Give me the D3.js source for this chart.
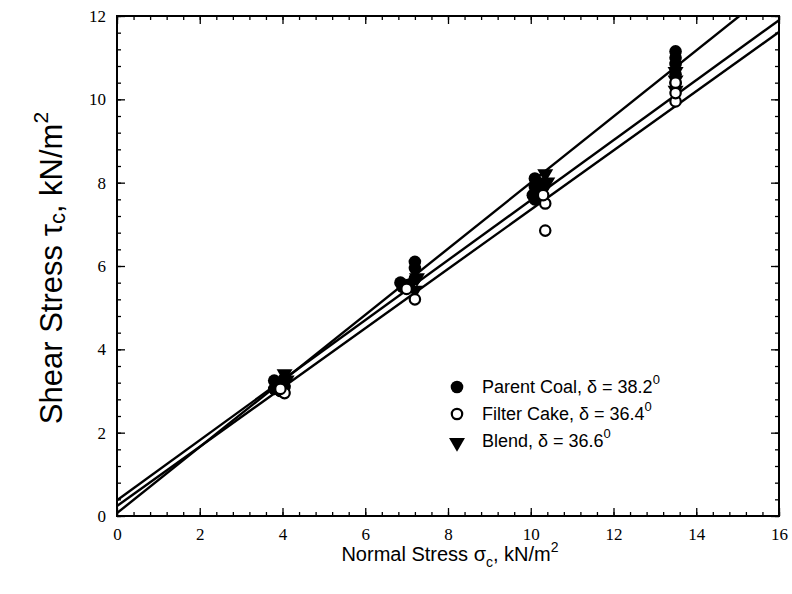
<!DOCTYPE html>
<html>
<head>
<meta charset="utf-8">
<script src="https://cdn.jsdelivr.net/npm/d3@7"></script>
<style>
  body { margin: 0; background: #fff; }
  svg { display: block; }
  .tick text { font-family: "Liberation Serif", "Times New Roman", serif; font-size: 17px; fill: #000; }
  .axis path.domain { display: none; }
  .axis line { stroke: #000; stroke-width: 1.3px; }
</style>
</head>
<body>
<svg id="chart" width="792" height="594"></svg>
<script>
// data: [normal stress, shear stress]
const parentCoal = [
  [3.8, 3.25], [3.8, 3.05], [4.05, 3.1], [4.05, 3.3], [3.95, 3.0],
  [7.2, 6.1], [7.2, 5.95], [6.85, 5.6], [6.9, 5.5], [7.05, 5.55], [7.2, 5.7],
  [10.1, 8.1], [10.1, 7.9], [10.05, 7.7], [10.1, 7.6], [10.3, 7.95],
  [13.5, 11.15], [13.5, 11.0], [13.5, 10.85], [13.5, 10.6], [13.5, 10.4]
];
const filterCake = [
  [4.05, 2.95], [3.95, 3.05],
  [7.2, 5.2], [7.0, 5.45],
  [10.35, 7.5], [10.35, 6.85], [10.3, 7.7],
  [13.5, 9.95], [13.5, 10.15], [13.5, 10.4]
];
const blend = [
  [4.05, 3.45], [3.9, 3.15], [4.1, 3.3],
  [7.1, 5.6], [7.25, 5.75], [7.2, 5.45],
  [10.35, 8.25], [10.4, 8.05], [10.3, 7.85],
  [13.5, 10.7], [13.5, 10.5], [13.5, 10.25]
];
// fitted lines: intercept, slope
const fitLines = [
  { name: "Parent Coal", b: 0.07, m: 0.793 },
  { name: "Blend", b: 0.38, m: 0.72 },
  { name: "Filter Cake", b: 0.24, m: 0.711 }
];
const legendItems = [
  { label: "Parent Coal, δ = 38.2", type: "pc" },
  { label: "Filter Cake, δ = 36.4", type: "fc" },
  { label: "Blend, δ = 36.6", type: "bl" }
];

const svg = d3.select("#chart");
const x = d3.scaleLinear().domain([0, 16]).range([117, 779]);
const y = d3.scaleLinear().domain([0, 12]).range([516, 16]);

const minorX = d3.range(0, 16.01, 0.4);
const minorY = d3.range(0, 12.01, 0.4);
const majorX = d3.range(0, 17, 2);
const majorY = d3.range(0, 13, 2);

// ticks (all pointing inward)
svg.append("g").attr("class", "axis").attr("transform", `translate(0,${y(0)})`)
  .call(d3.axisBottom(x).tickValues(minorX).tickSize(-4).tickFormat(""));
svg.append("g").attr("class", "axis").attr("transform", `translate(0,${y(0)})`)
  .call(d3.axisBottom(x).tickValues(majorX).tickSize(-8).tickPadding(12).tickFormat(d3.format("d")));
svg.append("g").attr("class", "axis").attr("transform", `translate(0,${y(12)})`)
  .call(d3.axisTop(x).tickValues(minorX).tickSize(-4).tickFormat(""));
svg.append("g").attr("class", "axis").attr("transform", `translate(0,${y(12)})`)
  .call(d3.axisTop(x).tickValues(majorX).tickSize(-8).tickFormat(""));
svg.append("g").attr("class", "axis").attr("transform", `translate(${x(0)},0)`)
  .call(d3.axisLeft(y).tickValues(minorY).tickSize(-4).tickFormat(""));
svg.append("g").attr("class", "axis").attr("transform", `translate(${x(0)},0)`)
  .call(d3.axisLeft(y).tickValues(majorY).tickSize(-8).tickPadding(11).tickFormat(d3.format("d")));
svg.append("g").attr("class", "axis").attr("transform", `translate(${x(16)},0)`)
  .call(d3.axisRight(y).tickValues(minorY).tickSize(-4).tickFormat(""));
svg.append("g").attr("class", "axis").attr("transform", `translate(${x(16)},0)`)
  .call(d3.axisRight(y).tickValues(majorY).tickSize(-8).tickFormat(""));

// frame
svg.append("rect")
  .attr("x", x(0)).attr("y", y(12))
  .attr("width", x(16) - x(0)).attr("height", y(0) - y(12))
  .attr("fill", "none").attr("stroke", "#000").attr("stroke-width", 2);

svg.append("clipPath").attr("id", "plot")
  .append("rect")
  .attr("x", x(0)).attr("y", y(12))
  .attr("width", x(16) - x(0)).attr("height", y(0) - y(12));

const plot = svg.append("g").attr("clip-path", "url(#plot)");

const line = d3.line().x(d => x(d[0])).y(d => y(d[1]));
plot.selectAll("path.fit").data(fitLines).join("path")
  .attr("class", "fit")
  .attr("d", d => line([[0, d.b], [16, d.b + d.m * 16]]))
  .attr("fill", "none").attr("stroke", "#000").attr("stroke-width", 2.4);

const tri = d3.symbol().type(d3.symbolTriangle).size(110);

function drawMarker(g, type) {
  if (type === "pc") {
    g.append("circle").attr("r", 6.3).attr("fill", "#000");
  } else if (type === "fc") {
    g.append("circle").attr("r", 5.2).attr("fill", "#fff")
      .attr("stroke", "#000").attr("stroke-width", 2.2);
  } else {
    g.append("path").attr("d", tri()).attr("transform", "rotate(180) translate(0,-1.5)")
      .attr("fill", "#000");
  }
}

const series = [
  { data: parentCoal, type: "pc" },
  { data: blend, type: "bl" },
  { data: filterCake, type: "fc" }
];
series.forEach(s => {
  svg.append("g").selectAll("g").data(s.data).join("g")
    .attr("transform", d => `translate(${x(d[0])},${y(d[1])})`)
    .each(function () { drawMarker(d3.select(this), s.type); });
});

// legend
const legend = svg.append("g").attr("transform", "translate(457,387)");
legendItems.forEach((d, i) => {
  const row = legend.append("g").attr("transform", `translate(0,${i * 27})`);
  drawMarker(row, d.type);
  const t = row.append("text")
    .attr("x", 25).attr("y", 6)
    .attr("font-family", "Liberation Sans, Arial, sans-serif")
    .attr("font-size", 18);
  t.append("tspan").text(d.label);
  t.append("tspan").attr("dy", -9).attr("font-size", 13).text("0");
});

// axis titles
const xt = svg.append("text")
  .attr("x", 450).attr("y", 561)
  .attr("text-anchor", "middle")
  .attr("font-family", "Liberation Sans, Arial, sans-serif")
  .attr("font-size", 20);
xt.append("tspan").text("Normal Stress σ");
xt.append("tspan").attr("dy", 6).attr("font-size", 14).text("c");
xt.append("tspan").attr("dy", -6).text(", kN/m");
xt.append("tspan").attr("dy", -9).attr("font-size", 14).text("2");

const yt = svg.append("text")
  .attr("transform", "translate(62,268) rotate(-90)")
  .attr("text-anchor", "middle")
  .attr("font-family", "Liberation Sans, Arial, sans-serif")
  .attr("font-size", 31);
yt.append("tspan").text("Shear Stress τ");
yt.append("tspan").attr("dy", 3).attr("font-size", 22).text("c");
yt.append("tspan").attr("dy", -3).text(", kN/m");
yt.append("tspan").attr("dy", -14).attr("font-size", 21).text("2");
</script>
</body>
</html>
